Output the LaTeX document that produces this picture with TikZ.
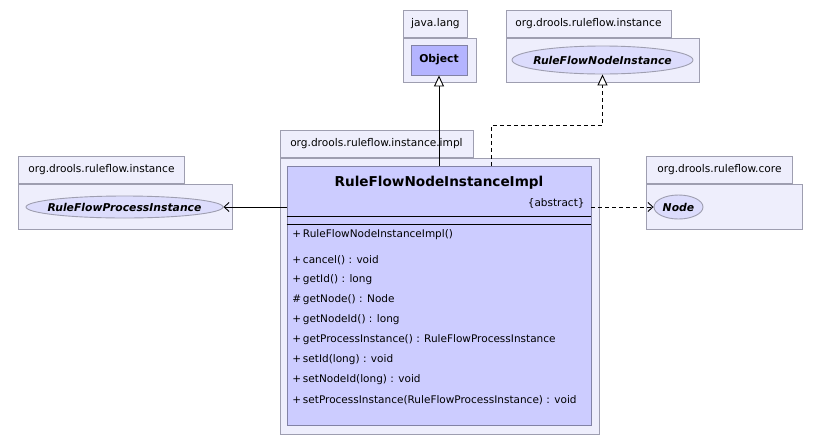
\documentclass[tikz,border=0pt]{standalone}
\usepackage{fontspec}
\setmainfont{DejaVu Sans}
\usetikzlibrary{arrows.meta,shapes.geometric}

\definecolor{pkgfill}{RGB}{238,238,252}
\definecolor{pkgline}{RGB}{158,158,176}
\definecolor{clsfill}{RGB}{204,204,255}
\definecolor{clsline}{RGB}{130,130,165}
\definecolor{objfill}{RGB}{180,180,255}
\definecolor{ifcfill}{RGB}{220,220,252}

% interface names do not widen their ellipse
\newcommand{\ifcname}[1]{\makebox[0pt]{#1}}

\tikzset{
  pkgtab/.style={draw=pkgline, fill=pkgfill, rectangle, inner sep=0pt, anchor=south west, font=\fontsize{10.6}{12}\selectfont},
  pkgbody/.style={draw=pkgline, fill=pkgfill, rectangle, inner sep=0pt, anchor=north west},
  ifc/.style={draw=pkgline, fill=ifcfill, ellipse, inner sep=0pt, font=\fontsize{10.8}{12}\selectfont\bfseries\itshape},
  member/.style={anchor=west, inner sep=0pt, font=\fontsize{10.5}{12}\selectfont},
  inherit/.style={-{Triangle[open, fill=white, length=11pt, width=10pt]}},
  realize/.style={inherit, dash pattern=on 4pt off 3pt},
  assoc/.style={-{Straight Barb[length=5pt, width=9pt]}},
  depend/.style={assoc, dash pattern=on 4pt off 3pt}
}

\begin{document}
\begin{tikzpicture}[x=1pt, y=-1pt, line width=0.9pt]
  \useasboundingbox[fill=white] (0,0) rectangle (820,445);

  % java.lang
  \node[pkgtab, minimum width=64, minimum height=27] (tabjava) at (403,38) {java.lang};
  \node[pkgbody, minimum width=73, minimum height=44] (pkgjava) at (403,38) {};
  \node[draw=clsline, fill=objfill, minimum width=56, minimum height=30, inner sep=0pt, font=\fontsize{10.8}{12}\selectfont\bfseries] (obj) at (439,60) {Object};

  % org.drools.ruleflow.instance (top)
  \node[pkgtab, minimum width=165, minimum height=27] (tabinst) at (505.5,38) {org.drools.ruleflow.instance};
  \node[pkgbody, minimum width=193.5, minimum height=44] (pkginst) at (505.5,38) {};
  \node[ifc, minimum width=181, minimum height=28] (rfni) at (602.5,60) {\ifcname{RuleFlowNodeInstance}};

  % org.drools.ruleflow.instance (left)
  \node[pkgtab, minimum width=166, minimum height=27] (tabproc) at (18,184) {org.drools.ruleflow.instance};
  \node[pkgbody, minimum width=213.5, minimum height=45] (pkgproc) at (18,184) {};
  \node[ifc, minimum width=197, minimum height=22] (rfpi) at (124.5,207) {\ifcname{RuleFlowProcessInstance}};

  % org.drools.ruleflow.core
  \node[pkgtab, minimum width=146, minimum height=27] (tabcore) at (646,184) {org.drools.ruleflow.core};
  \node[pkgbody, minimum width=156, minimum height=45] (pkgcore) at (646,184) {};
  \node[ifc, minimum width=49, minimum height=24] (nodecls) at (678.5,207) {\ifcname{Node}};

  % org.drools.ruleflow.instance.impl
  \node[pkgtab, minimum width=193, minimum height=27] (tabimpl) at (279.5,157.5) {org.drools.ruleflow.instance.impl};
  \node[pkgbody, minimum width=319.5, minimum height=276] (pkgimpl) at (279.5,157.5) {};
  \node[draw=clsline, fill=clsfill, minimum width=304, minimum height=259, inner sep=0pt] (cls) at (439,295.5) {};
  \node[font=\fontsize{13.6}{15}\selectfont\bfseries] (title) at (439,183) {RuleFlowNodeInstanceImpl};
  \node[member, anchor=east] (abs) at (585,203) {\{abstract\}};
  \draw (cls.west |- 0,216.5) -- (cls.east |- 0,216.5);
  \draw (cls.west |- 0,224) -- (cls.east |- 0,224);
  \node[member] (ctor) at (292,235) {+\,RuleFlowNodeInstanceImpl()};
  \foreach \txt [count=\i] in {{+\,cancel() : void},{+\,getId() : long},{\#\,getNode() : Node},{+\,getNodeId() : long},{+\,getProcessInstance() : RuleFlowProcessInstance},{+\,setId(long) : void},{+\,setNodeId(long) : void},{+\,setProcessInstance(RuleFlowProcessInstance) : void}}
    \node[member] (op\i) at (292,{240+20*\i}) {\txt};

  % connectors
  \coordinate (bendA) at (491.5,125);
  \draw[inherit] (cls.north) -- (obj.south);
  \draw[realize] (cls.north -| bendA) -- (bendA) -| (rfni.south);
  \draw[assoc] (cls.west |- rfpi.east) -- (rfpi.east);
  \draw[depend] (cls.east |- nodecls.west) -- (nodecls.west);
\end{tikzpicture}
\end{document}
